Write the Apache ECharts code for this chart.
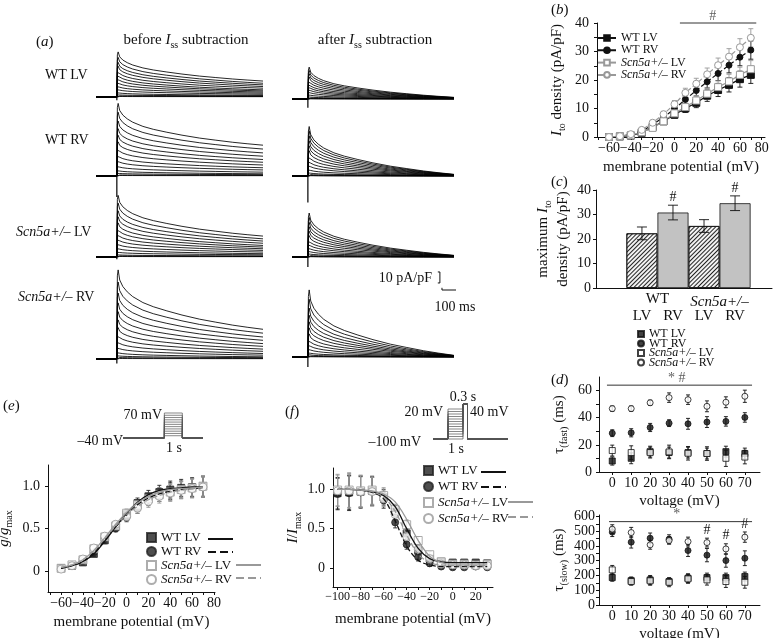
<!DOCTYPE html>
<html>
<head>
<meta charset="utf-8">
<script src="https://cdn.jsdelivr.net/npm/echarts@6.0.0/dist/echarts.min.js"></script>
<style>
html,body{margin:0;padding:0;background:#fff;}
#chart{width:776px;height:638px;}
</style>
</head>
<body>
<div id="chart"></div>
<script>
// ================= DATA =================
const groupNames = ['WT LV', 'WT RV', 'Scn5a+/– LV', 'Scn5a+/– RV'];

// (a) current traces: shared normalised decay
const traceTimes = [2, 5, 11, 23, 40, 61, 100, 140, 192, 250, 318, 380, 445, 500, 561];
const traceShape = [0.9, 1.0, 0.83, 0.72, 0.63, 0.55, 0.45, 0.38, 0.31, 0.24, 0.17, 0.12, 0.07, 0.035, 0];
// peak and end-of-pulse levels (pA/pF), -60..+70 mV steps
const wtLvBeforePeak = [0.5, 1, 2, 4, 7, 10, 13.5, 17, 20.5, 24, 28, 31.5, 36, 41];
const wtLvBeforeEnd  = [0.3, 0.5, 1, 1.5, 2.5, 3.5, 4.5, 5.5, 6.5, 8, 9.5, 11, 12.5, 14.5];
const wtRvBeforePeak = [0.5, 1, 2.5, 5, 9, 14, 19, 25, 31, 37, 43, 50, 58, 66];
const wtRvBeforeEnd  = [0.3, 0.6, 1.2, 2, 3.5, 5.5, 7.5, 10, 12.5, 15, 18, 21, 24.5, 28];
const koLvBeforePeak = [0.5, 1, 2, 4.5, 8, 12, 16.5, 21, 26, 31, 36.5, 42, 49, 56];
const koLvBeforeEnd  = [0.3, 0.5, 1, 2, 3, 4.5, 6, 7.5, 9, 10.5, 12.5, 14.5, 16.5, 19];
const koRvBeforePeak = [0.5, 1.5, 3, 6, 10.5, 16, 22, 28.5, 35.5, 43, 51, 60, 70, 81];
const koRvBeforeEnd  = [0.3, 0.6, 1.2, 2, 3.5, 5, 7, 9, 11.5, 14, 17, 20, 23.5, 27];
const wtLvAfterPeak = [0.2, 0.5, 1, 2, 4, 6.5, 9, 11.5, 14, 17, 20, 23, 26, 29];
const wtRvAfterPeak = [0.3, 0.6, 1.5, 3, 6, 10, 14, 18.5, 23, 27.5, 32, 36.5, 41, 45];
const koLvAfterPeak = [0.3, 0.6, 1.5, 3, 5.5, 8.5, 12, 15.5, 19.5, 23.5, 27.5, 31.5, 36, 40];
const koRvAfterPeak = [0.3, 0.8, 2, 4, 7.5, 11.5, 16, 21, 26.5, 32, 38, 44.5, 52.5, 61];
const afterEnd      = [0, 0, 0.1, 0.2, 0.3, 0.4, 0.5, 0.6, 0.8, 0.9, 1, 1.2, 1.3, 1.5];
const spikeBefore = [-3, -19, -2, -4];
const spikeAfter  = [-8, -24, -9, -9];
const scaleAmp = 10;    // pA/pF
const scaleTime = 100;  // ms

// (b) I-V
const volts = [-60, -50, -40, -30, -20, -10, 0, 10, 20, 30, 40, 50, 60, 70];
const bWtLv = [0, 0.2, 0.5, 1.5, 3.5, 5.5, 7.8, 10, 12, 14.5, 16.5, 18.3, 20.3, 21.8];
const bWtRv = [0, 0.2, 0.8, 2, 4.3, 7, 9.8, 13.2, 16.3, 19.4, 22.3, 25.2, 28, 30.5];
const bKoLv = [0, 0.3, 0.6, 1.7, 3.2, 5.5, 8.3, 10.5, 12.8, 15.2, 17.5, 19.5, 21.8, 23.8];
const bKoRv = [0, 0.3, 1, 2.5, 5, 8, 11.5, 15.5, 18.7, 22, 25.2, 28.2, 31.5, 34.8];
const bErrWtLv = [0.2, 0.2, 0.3, 0.5, 0.7, 0.9, 1.1, 1.4, 1.7, 2, 2.3, 2.5, 2.8, 3];
const bErrWtRv = [0.2, 0.2, 0.3, 0.5, 0.8, 1, 1.3, 1.6, 1.9, 2.2, 2.5, 2.7, 3, 3.2];
const bErrKoLv = [0.2, 0.2, 0.3, 0.5, 0.7, 0.9, 1.1, 1.4, 1.7, 2, 2.2, 2.5, 2.7, 3];
const bErrKoRv = [0.2, 0.2, 0.3, 0.5, 0.8, 1, 1.3, 1.6, 1.9, 2.2, 2.5, 2.8, 3, 3.2];

// (c) maximum Ito density
const cPos  = [1, 2, 3, 4];
const cVals = [22.3, 30.8, 25.3, 34.6];
const cErr  = [2.6, 3.0, 2.6, 3.0];
const cSig  = ['', '#', '', '#'];
const cSubLabels = ['LV', 'RV', 'LV', 'RV'];
const cGroupPos = [1.5, 3.5];
const cGroupLabels = ['WT', 'Scn5a+/–'];

// (d) time constants
const dVolts = [0, 10, 20, 30, 40, 50, 60, 70];
const dFastWtLv = [8.1, 10.1, 15, 14.3, 14.3, 13.6, 15, 13.6];
const dFastWtRv = [28.6, 28.9, 32.8, 36, 35.5, 36.8, 37.3, 40.2];
const dFastKoLv = [15.8, 14.3, 14.3, 14.8, 13.8, 13.6, 10.1, 11];
const dFastKoRv = [46.7, 46.7, 51, 54.8, 53.3, 48.4, 51.4, 55.8];
const dFastErrWtLv = [3, 4, 4, 4, 4, 4, 4, 4];
const dFastErrWtRv = [2.5, 3, 3, 2.5, 4, 4, 3.5, 3.5];
const dFastErrKoLv = [4, 5, 4, 5, 5, 5, 6, 5];
const dFastErrKoRv = [2, 2, 2, 3.5, 3.5, 4, 4, 4.5];
const dSlowWtLv = [186, 165, 170, 159, 182, 186, 186, 193];
const dSlowWtRv = [494, 426, 453, 446, 369, 338, 301, 317];
const dSlowKoLv = [238, 159, 164, 154, 177, 170, 159, 154];
const dSlowKoRv = [514, 491, 408, 437, 430, 423, 380, 460];
const dSlowErrWtLv = [25, 25, 30, 25, 30, 30, 30, 30];
const dSlowErrWtRv = [30, 40, 35, 30, 40, 45, 45, 50];
const dSlowErrKoLv = [30, 25, 30, 30, 30, 35, 40, 40];
const dSlowErrKoRv = [30, 35, 30, 25, 30, 30, 35, 35];
const dSlowSigKoRv = ['', '', '', '', '', '#', '#', '#'];

// (e) activation
const eWtLv = [0.03, 0.06, 0.1, 0.2, 0.36, 0.52, 0.67, 0.8, 0.88, 0.93, 0.96, 0.98, 0.99, 1.0];
const eWtRv = [0.03, 0.06, 0.12, 0.22, 0.38, 0.5, 0.63, 0.74, 0.84, 0.9, 0.94, 0.96, 0.98, 0.99];
const eKoLv = [0.03, 0.07, 0.13, 0.26, 0.4, 0.53, 0.68, 0.78, 0.85, 0.9, 0.93, 0.96, 0.98, 1.0];
const eKoRv = [0.02, 0.06, 0.14, 0.27, 0.41, 0.55, 0.64, 0.74, 0.82, 0.88, 0.92, 0.95, 0.97, 0.99];
const eErr  = [0.02, 0.02, 0.03, 0.03, 0.04, 0.04, 0.05, 0.06, 0.07, 0.08, 0.1, 0.1, 0.11, 0.12];
const eFitWtLv = [0.03, 0.06, 0.11, 0.2, 0.35, 0.52, 0.68, 0.81, 0.9, 0.95, 0.97, 0.98, 0.99, 0.99];
const eFitWtRv = [0.03, 0.06, 0.11, 0.21, 0.36, 0.52, 0.66, 0.78, 0.86, 0.91, 0.94, 0.96, 0.97, 0.98];
const eFitKoLv = [0.04, 0.07, 0.13, 0.24, 0.39, 0.55, 0.69, 0.8, 0.88, 0.93, 0.96, 0.97, 0.98, 0.99];
const eFitKoRv = [0.04, 0.07, 0.13, 0.24, 0.38, 0.53, 0.66, 0.76, 0.84, 0.89, 0.93, 0.95, 0.97, 0.98];
const eHold = -40;
const eSteps = [-30, -20, -10, 0, 10, 20, 30, 40, 50, 60, 70];

// (f) inactivation
const fVolts = [-100, -90, -80, -70, -60, -50, -40, -30, -20, -10, 0, 10, 20, 30];
const fWtLv = [0.95, 0.96, 0.97, 0.98, 0.9, 0.72, 0.44, 0.22, 0.12, 0.08, 0.07, 0.07, 0.07, 0.06];
const fWtRv = [0.94, 0.95, 0.96, 0.97, 0.86, 0.58, 0.3, 0.14, 0.06, 0.02, 0.01, 0.01, 0.02, 0.01];
const fKoLv = [0.99, 0.99, 0.98, 0.99, 0.92, 0.74, 0.55, 0.35, 0.17, 0.08, 0.05, 0.05, 0.04, 0.05];
const fKoRv = [0.98, 0.98, 0.97, 0.97, 0.88, 0.68, 0.4, 0.24, 0.12, 0.05, 0.04, 0.04, 0.03, 0.03];
const fErr  = [0.2, 0.22, 0.2, 0.18, 0.1, 0.07, 0.06, 0.05, 0.04, 0.03, 0.03, 0.02, 0.02, 0.02];
const fFitWtLv = [1.0, 1.0, 0.99, 0.97, 0.92, 0.78, 0.5, 0.25, 0.12, 0.08, 0.07, 0.07, 0.07, 0.07];
const fFitWtRv = [1.0, 1.0, 0.99, 0.96, 0.88, 0.6, 0.28, 0.1, 0.04, 0.02, 0.02, 0.02, 0.02, 0.02];
const fFitKoLv = [1.0, 1.0, 0.99, 0.98, 0.94, 0.84, 0.62, 0.35, 0.15, 0.07, 0.05, 0.05, 0.05, 0.05];
const fFitKoRv = [1.0, 1.0, 0.99, 0.97, 0.9, 0.72, 0.42, 0.18, 0.07, 0.04, 0.03, 0.03, 0.03, 0.03];
const fHold = -100;
const fPre = [-100, -90, -80, -70, -60, -50, -40, -30, -20, -10, 0, 10, 20];
const fTest = 40;

// ================= BUILD =================
const FF = 'Liberation Serif';
const INK = '#111';
const GRAY = '#999';
function rich(size) {
  const s = Math.round(size * 0.68);
  return {
    i: {fontFamily: FF, fontSize: size, fontStyle: 'italic', color: INK, fill: INK, lineHeight: size + 5},
    n: {fontFamily: FF, fontSize: size, color: INK, fill: INK, lineHeight: size + 5},
    sub: {fontFamily: FF, fontSize: s, color: INK, fill: INK, verticalAlign: 'bottom', lineHeight: s}
  };
}
const minusFmt = v => v < 0 ? '−' + Math.abs(v) : String(v);
const italicName = n => n.replace('Scn5a+/–', '{i|Scn5a+/–}');

const grids = [], xAxes = [], yAxes = [], series = [], graphics = [];
function addGrid(left, top, width, height) {
  grids.push({left, top, width, height, outerBoundsMode: 'none', containLabel: false, show: false});
  return grids.length - 1;
}
function hiddenAxis(gi, min, max) { return {type: 'value', gridIndex: gi, min, max, show: false}; }
function axis(gi, min, max, labelVals, tickVals, extra) {
  const base = {
    type: 'value', gridIndex: gi, min, max,
    axisLine: {show: true, onZero: false, lineStyle: {color: INK, width: 1}},
    axisTick: {show: true, inside: false, length: 3, customValues: tickVals, lineStyle: {color: INK, width: 1}},
    axisLabel: {show: true, customValues: labelVals, margin: 4, hideOverlap: false, showMinLabel: true, showMaxLabel: true,
      fontFamily: FF, fontSize: 14, color: INK, formatter: minusFmt},
    splitLine: {show: false},
    nameLocation: 'middle',
    nameTextStyle: {fontFamily: FF, fontSize: 15, color: INK, lineHeight: 20, rich: rich(15)}
  };
  const ex = extra || {};
  if (ex.axisLabel) { ex.axisLabel = Object.assign({}, base.axisLabel, ex.axisLabel); }
  if (ex.axisTick) { ex.axisTick = Object.assign({}, base.axisTick, ex.axisTick); }
  return Object.assign(base, ex);
}
function range(a, b, s) { const r = []; for (let v = a; v <= b + 1e-9; v += s) r.push(+v.toFixed(4)); return r; }

// ---- (a) traces ----
const beforeSets = [[wtLvBeforePeak, wtLvBeforeEnd], [wtRvBeforePeak, wtRvBeforeEnd], [koLvBeforePeak, koLvBeforeEnd], [koRvBeforePeak, koRvBeforeEnd]];
const afterSets = [wtLvAfterPeak, wtRvAfterPeak, koLvAfterPeak, koRvAfterPeak];
const rowBaseBefore = [97, 176, 257, 359];
const rowBaseAfter = [99, 176, 257, 357];
function traceSeries(gi, tStart, peaks, ends, spike) {
  peaks.forEach((p, k) => {
    const e = ends[k];
    const d = [[tStart, 0], [0, 0]];
    traceTimes.forEach((t, j) => d.push([t, e + (p - e) * traceShape[j]]));
    series.push({type: 'line', xAxisIndex: gi, yAxisIndex: gi, data: d, symbol: 'none', silent: true,
      lineStyle: {color: '#000', width: 0.85}, clip: false});
  });
  series.push({type: 'line', xAxisIndex: gi, yAxisIndex: gi, data: [[0, 0], [0, spike]], symbol: 'none', silent: true,
    lineStyle: {color: '#000', width: 1.2}, clip: false});
}
let scaleGrid = -1;
for (let r = 0; r < 4; r++) {
  const gi = addGrid(96, rowBaseBefore[r] - 99, 167, 132);
  xAxes.push(hiddenAxis(gi, -80, 561)); yAxes.push(hiddenAxis(gi, -30, 90));
  traceSeries(gi, -80, beforeSets[r][0], beforeSets[r][1], spikeBefore[r]);
}
for (let r = 0; r < 4; r++) {
  const gi = addGrid(292, rowBaseAfter[r] - 99, 163, 132);
  xAxes.push(hiddenAxis(gi, -61, 565)); yAxes.push(hiddenAxis(gi, -30, 90));
  traceSeries(gi, -61, afterSets[r], afterEnd, spikeAfter[r]);
  if (r === 2) scaleGrid = gi;
}
// scale bars (10 pA/pF, 100 ms)
series.push({type: 'line', xAxisIndex: scaleGrid, yAxisIndex: scaleGrid, symbol: 'none', clip: false, silent: true,
  lineStyle: {color: INK, width: 1},
  data: [[499, -13.6], [507, -13.6], [507, -13.6 - scaleAmp], [499, -13.6 - scaleAmp]]});
series.push({type: 'line', xAxisIndex: scaleGrid, yAxisIndex: scaleGrid, symbol: 'none', clip: false, silent: true,
  lineStyle: {color: INK, width: 1},
  data: [[515, -28], [515, -30], [515 + scaleTime, -30], [515 + scaleTime, -28]]});

// ---- generic helpers ----
function errSeries(gi, xs, ys, es, color, capHalf, sig) {
  return {
    type: 'custom', xAxisIndex: gi, yAxisIndex: gi, coordinateSystem: 'cartesian2d', clip: false, silent: true, z: 3,
    data: xs.map((x, i) => [x, ys[i], es[i]]), encode: {x: 0, y: 1},
    renderItem: (params, api) => {
      const x = api.value(0), y = api.value(1), e = api.value(2);
      const p1 = api.coord([x, y + e]), p2 = api.coord([x, y - e]);
      const st = {stroke: color, lineWidth: 0.9};
      const ch = [
        {type: 'line', shape: {x1: p1[0], y1: p1[1], x2: p2[0], y2: p2[1]}, style: st},
        {type: 'line', shape: {x1: p1[0] - capHalf, y1: p1[1], x2: p1[0] + capHalf, y2: p1[1]}, style: st},
        {type: 'line', shape: {x1: p2[0] - capHalf, y1: p2[1], x2: p2[0] + capHalf, y2: p2[1]}, style: st}
      ];
      if (sig && sig[params.dataIndex]) {
        ch.push({type: 'text', x: p1[0], y: p1[1] - 1, style: {text: sig[params.dataIndex], fontFamily: FF, fontSize: 14,
          fill: INK, align: 'center', verticalAlign: 'bottom', textAlign: 'center', textVerticalAlign: 'bottom'}});
      }
      return {type: 'group', children: ch};
    }
  };
}
function sigBar(gi, x1, x2, y, text, tx) {
  series.push({type: 'line', xAxisIndex: gi, yAxisIndex: gi, symbol: 'none', clip: false, silent: true,
    lineStyle: {color: '#333', width: 1}, data: [[x1, y], [x2, y]]});
  series.push({type: 'scatter', xAxisIndex: gi, yAxisIndex: gi, symbolSize: 0, clip: false, silent: true,
    data: [[tx, y]], label: {show: true, position: 'top', distance: 0, formatter: text, fontFamily: FF, fontSize: 14, color: '#333'}});
}
function gtext(x, y, text, size, align) {
  graphics.push({type: 'text', x, y, silent: true, style: {text, fontFamily: FF, fontSize: size, fill: INK,
    align, verticalAlign: 'middle', textAlign: align, textVerticalAlign: 'middle', rich: rich(size)}});
}
const legendFmt = name => italicName(name.slice(2));

// ---- (b) ----
const gB = addGrid(597, 23, 168, 114);
xAxes.push(axis(gB, -71, 83, range(-60, 80, 20), range(-70, 80, 10), {name: 'membrane potential (mV)', nameGap: 20}));
yAxes.push(axis(gB, 0, 40, range(0, 40, 10), range(0, 40, 5), {name: '{i|I}{sub|to} density (pA/pF)', nameGap: 30,
  axisLabel: {margin: 8, formatter: null}}));
const bSets = [bWtLv, bWtRv, bKoLv, bKoRv];
const bErrs = [bErrWtLv, bErrWtRv, bErrKoLv, bErrKoRv];
const markSty = [
  {color: INK, symbol: 'rect', fill: INK, dash: 'solid', size: 7},
  {color: INK, symbol: 'circle', fill: INK, dash: 'dashed', size: 6},
  {color: GRAY, symbol: 'rect', fill: '#fff', dash: 'solid', size: 7},
  {color: GRAY, symbol: 'circle', fill: '#fff', dash: 'dashed', size: 7}
];
bSets.forEach((arr, g) => {
  series.push(errSeries(gB, volts, arr, bErrs[g], markSty[g].color, 2.5));
});
bSets.forEach((arr, g) => {
  const s = markSty[g];
  series.push({type: 'line', name: 'b:' + groupNames[g], xAxisIndex: gB, yAxisIndex: gB, z: 4,
    data: volts.map((v, i) => [v, arr[i]]), symbol: s.symbol, symbolSize: s.size, showSymbol: true,
    lineStyle: {color: s.color, width: 1.2, type: s.dash},
    itemStyle: {color: s.fill, borderColor: s.color, borderWidth: 1}});
});
sigBar(gB, 5, 75, 40, '#', 35);

// ---- (c) ----
const gC = addGrid(596, 190, 176, 98);
xAxes.push(axis(gC, -0.48, 5.19, cGroupPos, [], {position: 'bottom', axisTick: {show: false},
  axisLabel: {margin: 4, fontSize: 15, rich: rich(15),
    formatter: v => italicName(cGroupLabels[cGroupPos.indexOf(v)] || '')}}));
yAxes.push(axis(gC, 0, 40, range(0, 40, 10), range(0, 40, 10), {name: 'maximum {i|I}{sub|to}\ndensity (pA/pF)', nameGap: 20,
  axisLabel: {margin: 5, formatter: null}}));
const hatch = {color: '#f2f2f2', borderColor: INK, borderWidth: 0.8,
  decal: {symbol: 'rect', symbolSize: 1, dashArrayX: [1, 0], dashArrayY: [1, 2], rotation: -Math.PI / 4, color: '#222'}};
const grayBar = {color: '#c2c2c2', borderColor: INK, borderWidth: 0.8};
series.push({type: 'bar', xAxisIndex: gC, yAxisIndex: gC, barWidth: 31, silent: true,
  data: cPos.map((p, i) => ({value: [p, cVals[i]], itemStyle: i % 2 === 0 ? hatch : grayBar}))});
series.push(errSeries(gC, cPos, cVals, cErr, INK, 5, cSig));

// ---- (d) ----
const gDf = addGrid(599, 377, 161, 95);
xAxes.push(axis(gDf, -7, 78, dVolts, dVolts, {name: 'voltage (mV)', nameGap: 18}));
yAxes.push(axis(gDf, 0, 70, range(0, 60, 20), range(0, 60, 10), {name: 'τ{sub|(fast)} (ms)', nameGap: 30,
  axisLabel: {margin: 7}}));
const gDs = addGrid(599, 515, 161, 90);
xAxes.push(axis(gDs, -7, 78, dVolts, dVolts, {name: 'voltage (mV)', nameGap: 13}));
yAxes.push(axis(gDs, 0, 610, range(0, 600, 100), range(0, 600, 50), {name: 'τ{sub|(slow)} (ms)', nameGap: 30,
  axisLabel: {margin: 4}}));
const dSty = [
  {symbol: 'rect', fill: INK}, {symbol: 'circle', fill: INK},
  {symbol: 'rect', fill: '#fff'}, {symbol: 'circle', fill: '#fff'}
];
const dFast = [dFastWtLv, dFastWtRv, dFastKoLv, dFastKoRv];
const dFastE = [dFastErrWtLv, dFastErrWtRv, dFastErrKoLv, dFastErrKoRv];
const dSlow = [dSlowWtLv, dSlowWtRv, dSlowKoLv, dSlowKoRv];
const dSlowE = [dSlowErrWtLv, dSlowErrWtRv, dSlowErrKoLv, dSlowErrKoRv];
[[gDf, dFast, dFastE], [gDs, dSlow, dSlowE]].forEach(([gi, sets, errs], panel) => {
  sets.forEach((arr, g) => series.push(errSeries(gi, dVolts, arr, errs[g], INK, 2, (panel === 1 && g === 3) ? dSlowSigKoRv : null)));
  sets.forEach((arr, g) => series.push({type: 'scatter', name: 'd:' + groupNames[g], xAxisIndex: gi, yAxisIndex: gi, z: 4,
    data: dVolts.map((v, i) => [v, arr[i]]), symbol: dSty[g].symbol, symbolSize: 6,
    itemStyle: {color: dSty[g].fill, borderColor: INK, borderWidth: 1}}));
});
sigBar(gDf, -2.8, 73.8, 64, '* #', 34);
sigBar(gDs, -1.7, 73.8, 565, '*', 34);

// ---- (e) ----
const gE = addGrid(48, 465, 167, 127);
xAxes.push(axis(gE, -72, 81, range(-60, 80, 20), range(-70, 80, 10), {name: 'membrane potential (mV)', nameGap: 20}));
yAxes.push(axis(gE, -0.25, 1.25, [0, 0.5, 1], [0, 0.5, 1], {name: '{i|g}/{i|g}{sub|max}', nameGap: 34,
  axisLabel: {margin: 8, formatter: v => v === 0 ? '0' : v.toFixed(1)}}));
const efSty = [
  {color: '#222', symbol: 'rect', fill: '#222', dash: 'solid', size: 7},
  {color: '#222', symbol: 'circle', fill: '#222', dash: 'dashed', size: 7},
  {color: GRAY, symbol: 'rect', fill: '#fff', dash: 'solid', size: 8},
  {color: GRAY, symbol: 'circle', fill: '#fff', dash: 'dashed', size: 8}
];
function sigmoidPanel(gi, prefix, xs, pts, errs, fits) {
  pts.forEach((arr, g) => series.push(errSeries(gi, xs, arr, errs, efSty[g].color, 2)));
  fits.forEach((arr, g) => {
    const c = g < 2 ? '#111' : GRAY;
    series.push({type: 'line', name: prefix + 'f' + groupNames[g], xAxisIndex: gi, yAxisIndex: gi, z: 5,
      data: xs.map((v, i) => [v, arr[i]]), symbol: 'none', smooth: 0.35, silent: true,
      itemStyle: {color: c}, lineStyle: {color: c, width: 1.3, type: efSty[g].dash}});
  });
  pts.forEach((arr, g) => series.push({type: 'scatter', name: prefix + groupNames[g], xAxisIndex: gi, yAxisIndex: gi, z: 4,
    data: xs.map((v, i) => [v, arr[i]]), symbol: efSty[g].symbol, symbolSize: efSty[g].size,
    itemStyle: {color: efSty[g].fill, borderColor: efSty[g].color, borderWidth: 1}}));
}
sigmoidPanel(gE, 'e', volts, [eWtLv, eWtRv, eKoLv, eKoRv], eErr, [eFitWtLv, eFitWtRv, eFitKoLv, eFitKoRv]);

// ---- (f) ----
const gF = addGrid(333, 468, 160, 119);
xAxes.push(axis(gF, -104, 35, range(-100, 20, 20), range(-100, 30, 10), {name: 'membrane potential (mV)', nameGap: 22,
  axisLabel: {fontSize: 12}}));
yAxes.push(axis(gF, -0.24, 1.27, [0, 0.5, 1], [0, 0.5, 1], {name: '{i|I}/{i|I}{sub|max}', nameGap: 30,
  axisLabel: {margin: 8, formatter: v => v === 0 ? '0' : v.toFixed(1)}}));
sigmoidPanel(gF, 'f', fVolts, [fWtLv, fWtRv, fKoLv, fKoRv], fErr, [fFitWtLv, fFitWtRv, fFitKoLv, fFitKoRv]);

// ---- protocols ----
const gPe = addGrid(123, 413, 80, 25);
xAxes.push(hiddenAxis(gPe, -2.3, 2.15)); yAxes.push(hiddenAxis(gPe, -40, 70));
eSteps.forEach(v => series.push({type: 'line', xAxisIndex: gPe, yAxisIndex: gPe, symbol: 'none', silent: true, clip: false,
  lineStyle: {color: '#555', width: 0.7},
  data: [[-2.3, eHold], [0, eHold], [0, v], [1, v], [1, eHold], [2.15, eHold]]}));
const gPf = addGrid(433, 404, 75, 35);
xAxes.push(hiddenAxis(gPf, -1, 4)); yAxes.push(hiddenAxis(gPf, -100, 40));
fPre.forEach(v => series.push({type: 'line', xAxisIndex: gPf, yAxisIndex: gPf, symbol: 'none', silent: true, clip: false,
  lineStyle: {color: '#555', width: 0.7},
  data: [[-1, fHold], [0, fHold], [0, v], [1, v], [1, fTest], [1.3, fTest], [1.3, fHold], [4, fHold]]}));

// ---- (c) second label row ----
xAxes.push(axis(gC, -0.48, 5.19, cPos, [], {position: 'bottom', offset: 17, axisLine: {show: false}, axisTick: {show: false},
  axisLabel: {margin: 4, fontSize: 15, formatter: v => cSubLabels[cPos.indexOf(v)] || ''}}));

// ---- texts ----
gtext(36, 42, '({i|a})', 15, 'left');
gtext(186, 40, 'before {i|I}{sub|ss} subtraction', 15, 'center');
gtext(375, 40, 'after {i|I}{sub|ss} subtraction', 15, 'center');
gtext(45, 75, 'WT LV', 14, 'left');
gtext(45, 140, 'WT RV', 14, 'left');
gtext(16, 232, '{i|Scn5a+/–} LV', 14, 'left');
gtext(18, 297, '{i|Scn5a+/–} RV', 14, 'left');
gtext(432, 278, '10 pA/pF', 14, 'right');
gtext(455, 307, '100 ms', 14, 'center');
gtext(551, 10, '({i|b})', 15, 'left');
gtext(551, 182, '({i|c})', 15, 'left');
gtext(551, 380, '({i|d})', 15, 'left');
gtext(3, 406, '({i|e})', 15, 'left');
gtext(285, 412, '({i|f})', 15, 'left');
gtext(162, 415, '70 mV', 14, 'right');
gtext(123, 441, '–40 mV', 14, 'right');
gtext(174, 448, '1 s', 14, 'center');
gtext(463, 397, '0.3 s', 14, 'center');
gtext(443, 412, '20 mV', 14, 'right');
gtext(470, 412, '40 mV', 14, 'left');
gtext(421, 442, '–100 mV', 14, 'right');
gtext(456, 449, '1 s', 14, 'center');

// ---- legends ----
function legend(left, top, names, iw, ih, lh, gap, fmt, size, hideSymbol) {
  const fs = size || 12;
  const lg = {left, top, orient: 'vertical', itemWidth: iw, itemHeight: ih, itemGap: gap, padding: 0, selectedMode: false,
    data: names, formatter: fmt || legendFmt,
    textStyle: {fontFamily: FF, fontSize: fs, color: INK, lineHeight: lh,
      rich: {i: {fontFamily: FF, fontSize: fs, fontStyle: 'italic', color: INK, lineHeight: lh}}}};
  if (hideSymbol) lg.itemStyle = {opacity: 0};
  return lg;
}
const legends = [
  legend(597, 32, groupNames.map(n => 'b:' + n), 18, 7, 12, 0.3),
  legend(637, 328, groupNames.map(n => 'd:' + n), 6, 6, 10, -2.5),
  legend(146, 531, groupNames.map(n => 'e' + n), 9, 9, 12, 1, n => italicName(n.slice(1)), 13),
  legend(207, 533, groupNames.slice(0, 2).map(n => 'ef' + n), 25, 8, 12, 1, () => ' ', 12, true),
  legend(235, 559, groupNames.slice(2).map(n => 'ef' + n), 25, 8, 12, 1, () => ' ', 12, true),
  legend(423, 464, groupNames.map(n => 'f' + n), 9, 9, 12, 3, n => italicName(n.slice(1)), 13),
  legend(480, 466, groupNames.slice(0, 2).map(n => 'ff' + n), 25, 8, 12, 3, () => ' ', 12, true),
  legend(507, 496, groupNames.slice(2).map(n => 'ff' + n), 25, 8, 12, 3, () => ' ', 12, true)
];

const chart = echarts.init(document.getElementById('chart'), null, {renderer: 'canvas'});
chart.setOption({
  animation: false,
  backgroundColor: '#fff',
  textStyle: {fontFamily: FF},
  grid: grids, xAxis: xAxes, yAxis: yAxes,
  legend: legends,
  series: series,
  graphic: {elements: graphics}
});
</script>
</body>
</html>
